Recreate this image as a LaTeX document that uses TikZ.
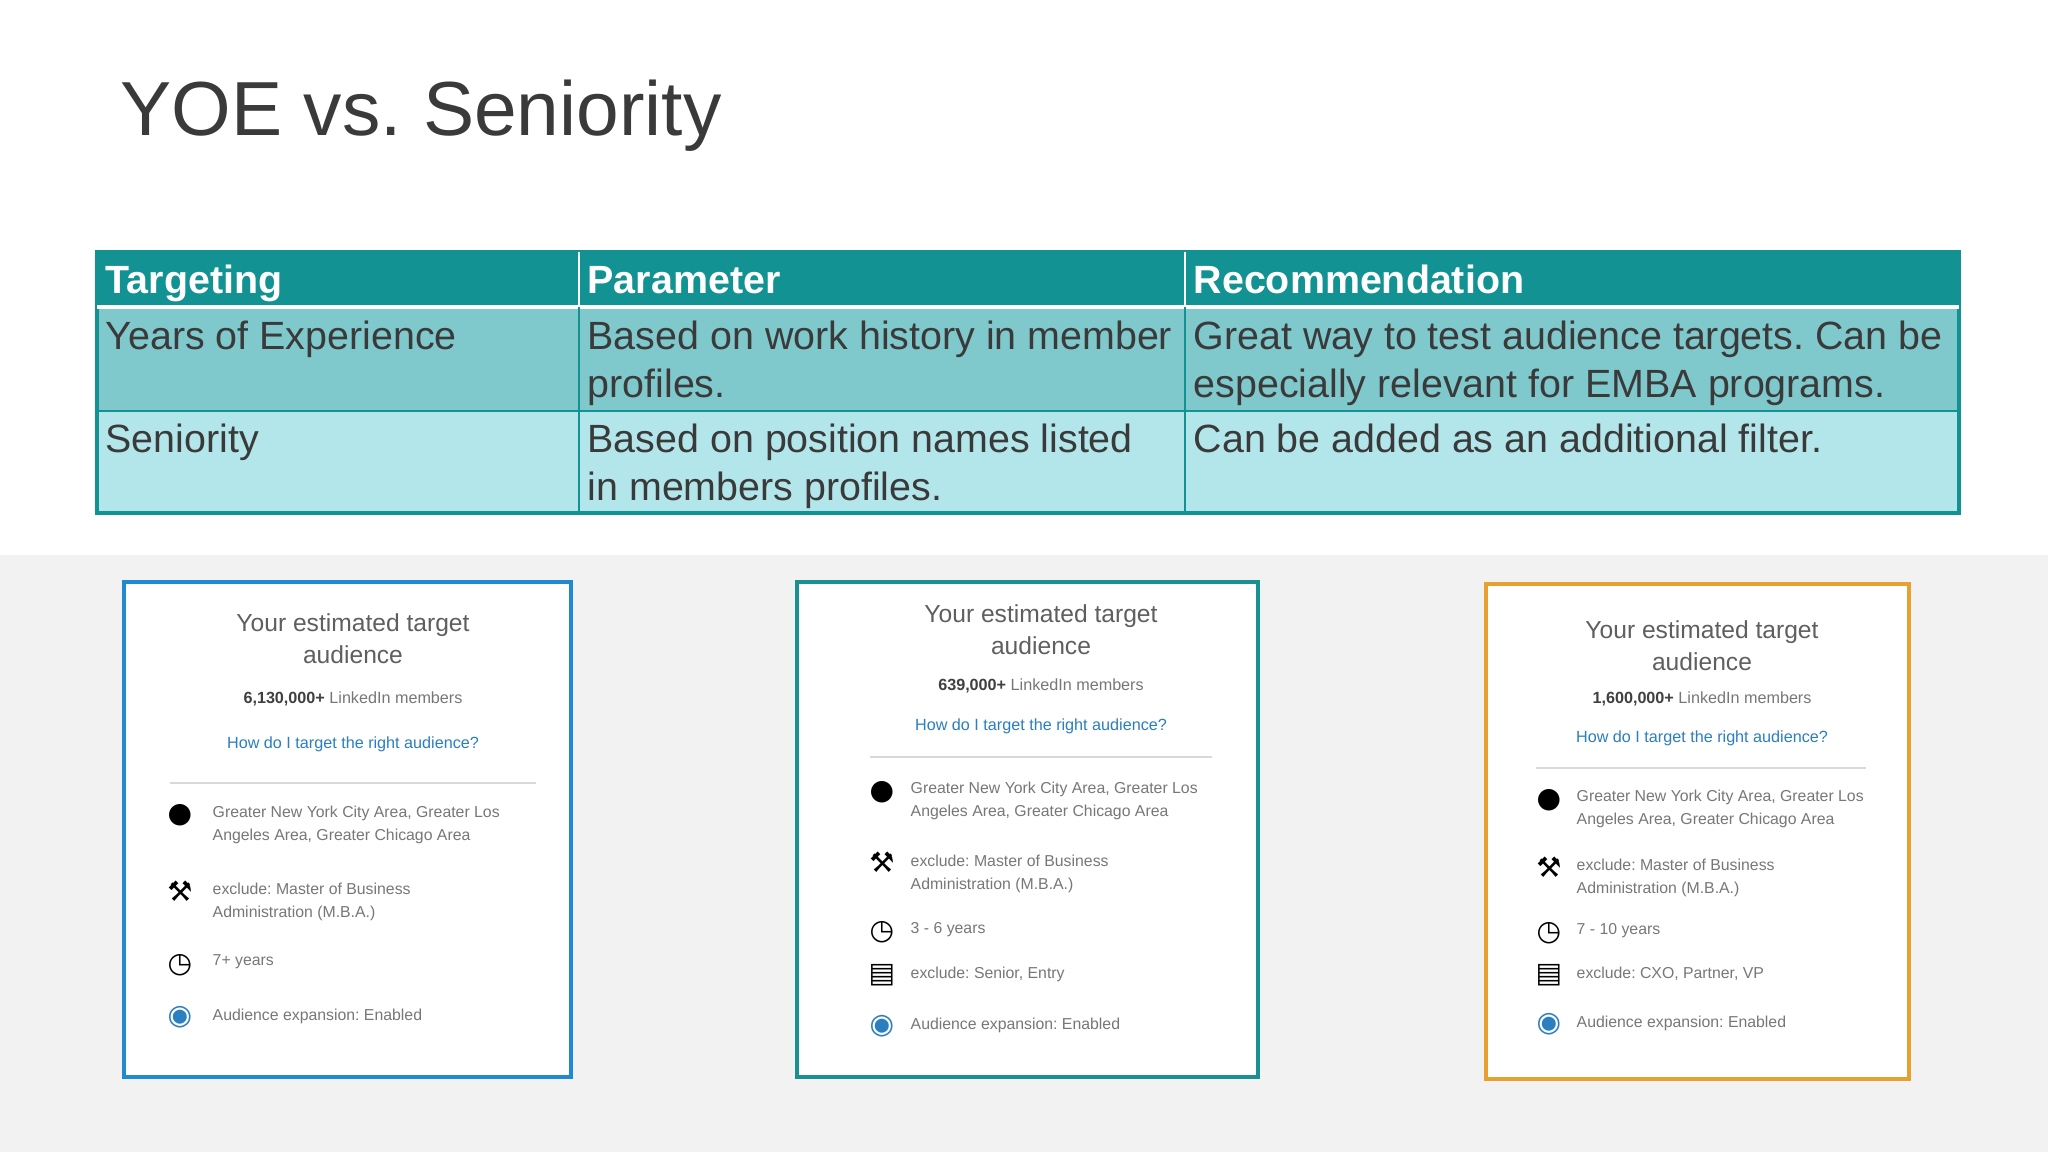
\documentclass[tikz,border=0pt]{standalone}
\usepackage{fontspec}
\setmainfont{Liberation Sans}
\newfontfamily\djvfont{DejaVu Sans}
\frenchspacing
\definecolor{hdr}{HTML}{129292}
\definecolor{rowa}{HTML}{7FC8CC}
\definecolor{rowb}{HTML}{B2E6EA}
\definecolor{bgg}{HTML}{F2F2F2}
\definecolor{ttl}{HTML}{3A3A3A}
\definecolor{cbl}{HTML}{1F8AD0}
\definecolor{cte}{HTML}{1A9090}
\definecolor{cor}{HTML}{E8A030}
\definecolor{lnk}{HTML}{2A7FC0}
\definecolor{gtx}{HTML}{777777}
\begin{document}
\begin{tikzpicture}[x=0.01cm,y=-0.01cm,
  cell/.style={anchor=north west,inner sep=0pt,align=left,font=\fontsize{11.2pt}{13.6pt}\selectfont,text=ttl},
  hcell/.style={anchor=base west,inner sep=0pt,font=\fontsize{11.2pt}{13pt}\selectfont\bfseries,text=white},
  ctitle/.style={align=center,inner sep=0pt,font=\fontsize{7pt}{9pt}\selectfont,text=gtx!80!black},
  csm/.style={anchor=west,align=left,inner sep=0pt,font=\fontsize{4.5pt}{6.6pt}\selectfont,text=gtx},
  icon/.style={inner sep=0pt,font=\djvfont\fontsize{8pt}{8pt}\selectfont}]
\useasboundingbox (0,0) rectangle (2048,1152);
\fill[white] (0,0) rectangle (2048,555);
\fill[bgg] (0,555) rectangle (2048,1152);
\node[anchor=west,inner sep=0pt,text=ttl,font=\fontsize{21.8pt}{26pt}\selectfont] (title) at (120,116) {YOE vs. Seniority};
% table
\fill[hdr] (97,252) rectangle (1959,307);
\fill[rowa] (97,307) rectangle (1959,411);
\fill[rowb] (97,411) rectangle (1959,513);
\draw[hdr,line width=1pt] (97,252) rectangle (1959,513);
\draw[white,line width=1.2pt] (97,307) -- (1959,307);
\draw[hdr,line width=0.8pt] (97,411) -- (1959,411) (579,307) -- (579,513) (1185,307) -- (1185,513);
\draw[white,line width=0.6pt] (579,252) -- (579,307) (1185,252) -- (1185,307);
\node[hcell] (h1) at (105,294) {Targeting};
\node[hcell] (h2) at (587,294) {Parameter};
\node[hcell] (h3) at (1193,294) {Recommendation};
\node[cell] (a1) at (105,320) {Years of Experience};
\node[cell] (a2) at (587,320) {Based on work history in member\\profiles.};
\node[cell] (a3) at (1193,320) {Great way to test audience targets. Can be\\especially relevant for EMBA programs.};
\node[cell] (b1) at (105,423) {Seniority};
\node[cell] (b2) at (587,423) {Based on position names listed\\in members profiles.};
\node[cell] (b3) at (1193,423) {Can be added as an additional filter.};
% card 1
\draw[cbl,line width=1.3pt,fill=white] (124,582) rectangle (571,1077);
\node[ctitle] (t1) at (353,639) {Your estimated target\\audience};
\node[inner sep=0pt,font=\fontsize{4.6pt}{6pt}\selectfont,text=gtx] (n1) at (353,699) {\textbf{\color{black!75}6,130,000+} LinkedIn members};
\node[inner sep=0pt,font=\fontsize{4.6pt}{6pt}\selectfont,text=lnk] (l1) at (353,744) {How do I target the right audience?};
\draw[black!15] (170,783) -- (536,783);
\node[icon] (g1) at (180,815) {●};
\node[csm] (x1) at (212,825) {Greater New York City Area, Greater Los\\Angeles Area, Greater Chicago Area};
\node[icon] (k1) at (180,891) {⚒};
\node[csm] (y1) at (212,902) {exclude: Master of Business\\Administration (M.B.A.)};
\node[icon] (c1) at (180,965) {◷};
\node[csm] (z1) at (212,962) {7+ years};
\node[icon,text=lnk] (p1) at (180,1017) {◉};
\node[csm] (w1) at (212,1016) {Audience expansion:  Enabled};
% card 2
\draw[cte,line width=1.3pt,fill=white] (797,582) rectangle (1258,1077);
\node[ctitle] (t2) at (1041,630) {Your estimated target\\audience};
\node[inner sep=0pt,font=\fontsize{4.6pt}{6pt}\selectfont,text=gtx] (n2) at (1041,686) {\textbf{\color{black!75}639,000+} LinkedIn members};
\node[inner sep=0pt,font=\fontsize{4.6pt}{6pt}\selectfont,text=lnk] (l2) at (1041,726) {How do I target the right audience?};
\draw[black!15] (870,757) -- (1212,757);
\node[icon] (g2) at (882,792) {●};
\node[csm] (x2) at (910,801) {Greater New York City Area, Greater Los\\Angeles Area, Greater Chicago Area};
\node[icon] (k2) at (882,862) {⚒};
\node[csm] (y2) at (910,874) {exclude: Master of Business\\Administration (M.B.A.)};
\node[icon] (c2) at (882,932) {◷};
\node[csm] (z2) at (910,930) {3 - 6 years};
\node[icon] (d2) at (882,975) {▤};
\node[csm] (v2) at (910,974) {exclude: Senior, Entry};
\node[icon,text=lnk] (p2) at (882,1026) {◉};
\node[csm] (w2) at (910,1025) {Audience expansion:  Enabled};
% card 3
\draw[cor,line width=1.3pt,fill=white] (1486,584) rectangle (1909,1079);
\node[ctitle] (t3) at (1702,646) {Your estimated target\\audience};
\node[inner sep=0pt,font=\fontsize{4.6pt}{6pt}\selectfont,text=gtx] (n3) at (1702,699) {\textbf{\color{black!75}1,600,000+} LinkedIn members};
\node[inner sep=0pt,font=\fontsize{4.6pt}{6pt}\selectfont,text=lnk] (l3) at (1702,738) {How do I target the right audience?};
\draw[black!15] (1536,768) -- (1866,768);
\node[icon] (g3) at (1549,800) {●};
\node[csm] (x3) at (1576,809) {Greater New York City Area, Greater Los\\Angeles Area, Greater Chicago Area};
\node[icon] (k3) at (1549,867) {⚒};
\node[csm] (y3) at (1576,878) {exclude: Master of Business\\Administration (M.B.A.)};
\node[icon] (c3) at (1549,933) {◷};
\node[csm] (z3) at (1576,931) {7 - 10 years};
\node[icon] (d3) at (1549,975) {▤};
\node[csm] (v3) at (1576,974) {exclude: CXO, Partner, VP};
\node[icon,text=lnk] (p3) at (1549,1024) {◉};
\node[csm] (w3) at (1576,1023) {Audience expansion:  Enabled};
\end{tikzpicture}
\end{document}
